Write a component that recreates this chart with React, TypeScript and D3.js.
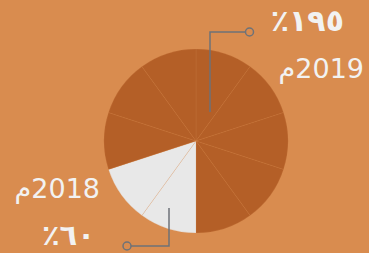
import React, { useEffect, useRef } from 'react';
import * as d3 from 'd3';

// ten equal wedges, clockwise from 12 o'clock
const sliceYears = ['2019', '2019', '2019', '2019', '2019', '2018', '2018', '2019', '2019', '2019'];
const sliceValues = [1, 1, 1, 1, 1, 1, 1, 1, 1, 1];
const years = ['2019', '2018'];
const yearLabels = ['2019م', '2018م'];
const percentLabels = ['١٩٥٪', '٦٠٪'];

const App = () => {
  const ref = useRef<SVGSVGElement>(null);

  useEffect(() => {
    const svg = d3.select(ref.current);
    svg.selectAll('*').remove();

    const width = 369;
    const height = 253;
    const cx = 196;
    const cy = 141;
    const r = 92;

    svg.append('rect').attr('width', width).attr('height', height).attr('fill', '#D98C4F');

    const color = d3.scaleOrdinal<string, string>().domain(years).range(['#B45F27', '#E8E8E8']);

    const data = sliceValues.map((v, i) => ({ value: v, year: sliceYears[i] }));
    const pie = d3.pie<{ value: number; year: string }>().value(d => d.value).sort(null);
    const arc = d3.arc<d3.PieArcDatum<{ value: number; year: string }>>().innerRadius(0).outerRadius(r);

    const g = svg.append('g').attr('transform', `translate(${cx},${cy})`);
    g.selectAll('path')
      .data(pie(data))
      .enter().append('path')
      .attr('d', arc)
      .attr('fill', d => color(d.data.year))
      .attr('stroke', '#D98C4F')
      .attr('stroke-opacity', 0.35)
      .attr('stroke-width', 0.5);

    // leader lines
    const lineColor = '#6E7278';
    svg.append('path')
      .attr('d', 'M210,112 V32 H245')
      .attr('fill', 'none').attr('stroke', lineColor).attr('stroke-width', 1.5);
    svg.append('circle').attr('cx', 249.5).attr('cy', 32).attr('r', 4)
      .attr('fill', 'none').attr('stroke', lineColor).attr('stroke-width', 1.5);
    svg.append('path')
      .attr('d', 'M169,208 V246 H131')
      .attr('fill', 'none').attr('stroke', lineColor).attr('stroke-width', 1.5);
    svg.append('circle').attr('cx', 127).attr('cy', 246).attr('r', 4)
      .attr('fill', 'none').attr('stroke', lineColor).attr('stroke-width', 1.5);

    const font = '"DejaVu Sans", "Noto Sans", sans-serif';
    const addText = (t: string, x: number, y: number, size: number, weight: string) =>
      svg.append('text')
        .attr('x', x).attr('y', y)
        .attr('direction', 'rtl')
        .attr('text-anchor', 'start')
        .attr('font-family', font)
        .attr('font-size', size)
        .attr('font-weight', weight)
        .attr('fill', '#F2F2F2')
        .text(t);

    addText(percentLabels[0], 344, 31, 30, 'bold');
    addText(yearLabels[0], 364, 78, 27, 'normal');
    addText(yearLabels[1], 100, 198, 27, 'normal');
    addText(percentLabels[1], 95, 245, 29, 'bold');
  }, []);

  return (
    <svg ref={ref} width={369} height={253} style={{ position: 'absolute', left: 0, top: 0 }} />
  );
};

export default App;
